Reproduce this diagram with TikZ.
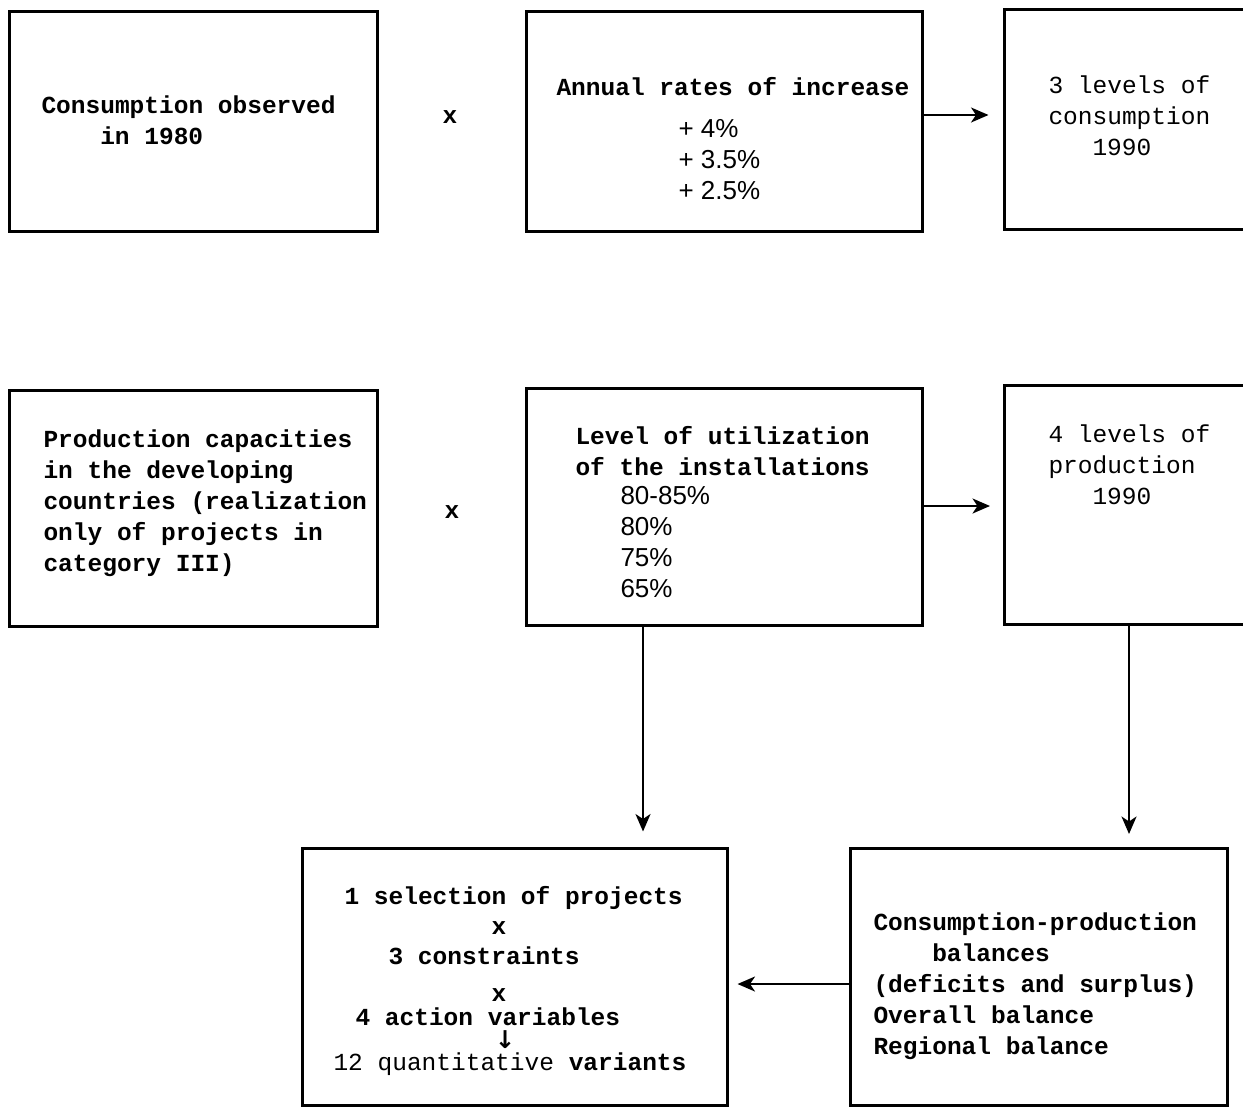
\documentclass[tikz,border=0pt]{standalone}
\usepackage{fontspec}
\setmonofont{Liberation Mono}
\setsansfont{Liberation Sans}
\newfontfamily\arrowfont{DejaVu Sans}
\usetikzlibrary{arrows.meta}

\begin{document}
\begin{tikzpicture}[x=0.4pt, y=-0.4pt,
			box/.style={draw, line width=1.2pt, inner sep=0pt},
			txt/.style={font=\ttfamily\fontsize{9.8}{12.4}\selectfont, align=left, inner sep=0pt, anchor=north west},
			pct/.style={font=\sffamily\fontsize{10.4}{12.4}\selectfont, align=left, inner sep=0pt, anchor=north west},
			flow/.style={-{Stealth[length=7pt, width=6pt, inset=2pt]}, line width=0.9pt}]
			
			\useasboundingbox (0,0) rectangle (1243,1106);
			\clip (0,0) rectangle (1243,1106);
			
			% Define the boxes for the first line
			\node[box, minimum width=146.8pt, minimum height=87.6pt] (cons80) at (193.5,121.5) {};
			\node[box, minimum width=158.4pt, minimum height=87.6pt] (rates) at (724,121.5) {};
			\node[box, minimum width=118.4pt, minimum height=87.6pt] (cons90) at (1152,119.5) {};
			
			% Define the boxes for the second line
			\node[box, minimum width=146.8pt, minimum height=94.4pt] (capac) at (193.5,508) {};
			\node[box, minimum width=158.4pt, minimum height=94.8pt] (util) at (724,506.5) {};
			\node[box, minimum width=118.4pt, minimum height=95.6pt] (prod90) at (1152,504.5) {};
			
			% Define the boxes for the third line
			\node[box, minimum width=170pt, minimum height=102.8pt] (variants) at (514.5,976.5) {};
			\node[box, minimum width=150.8pt, minimum height=102.8pt] (balance) at (1038.5,976.5) {};
			
			% Texts of the first line
			\node[txt, font=\ttfamily\bfseries\fontsize{9.8}{12.4}\selectfont] (t-cons80) at (41,95) {Consumption observed\\\hspace*{23.5pt}in 1980};
			\node[txt, anchor=center, font=\ttfamily\bfseries\fontsize{9.8}{12.4}\selectfont] (x1) at (450,117) {x};
			\node[txt, font=\ttfamily\bfseries\fontsize{9.8}{12.4}\selectfont] (t-rates) at (556,77) {Annual rates of increase};
			\node[pct] (t-pct) at (678,119) {+ 4\%\\+ 3.5\%\\+ 2.5\%};
			\node[txt] (t-cons90) at (1048,75) {3 levels of\\consumption\\\hspace*{17.6pt}1990};
			
			% Texts of the second line
			\node[txt, font=\ttfamily\bfseries\fontsize{9.8}{12.4}\selectfont] (t-capac) at (43,429) {Production capacities\\in the developing\\countries (realization\\only of projects in\\category III)};
			\node[txt, anchor=center, font=\ttfamily\bfseries\fontsize{9.8}{12.4}\selectfont] (x2) at (452,512) {x};
			\node[txt, font=\ttfamily\bfseries\fontsize{9.8}{12.4}\selectfont] (t-util) at (575,426) {Level of utilization\\of the installations};
			\node[pct] (t-util-pct) at (620,486) {80-85\%\\80\%\\75\%\\65\%};
			\node[txt] (t-prod90) at (1048,424) {4 levels of\\production\\\hspace*{17.6pt}1990};
			
			% Texts of the third line
			\node[txt, font=\ttfamily\bfseries\fontsize{9.8}{12.4}\selectfont] (t-variants) at (333,886) {\hspace*{4.4pt}1 selection of projects\\[-0.4pt]\hspace*{63.2pt}x\\[-0.4pt]\hspace*{22pt}3 constraints\\[2.4pt]\hspace*{63.2pt}x\\[-2.8pt]\hspace*{8.8pt}4 action variables\\[-3.4pt]\hspace*{64.5pt}{\arrowfont\bfseries ↓}\\[-3.6pt]\mdseries 12 quantitative \bfseries variants};
			\node[txt, font=\ttfamily\bfseries\fontsize{9.8}{12.4}\selectfont] (t-balance) at (873,912) {Consumption-production\\\hspace*{23.5pt}balances\\(deficits and surplus)\\Overall balance\\Regional balance};
			
			% Connectors
			\draw[flow, shorten >=5.6pt] (rates.east |- 0,115) -- (cons90.west |- 0,115);
			\draw[flow, shorten >=5pt] (util.east |- 0,506) -- (prod90.west |- 0,506);
			\draw[flow, shorten >=6pt] (util.south -| 643,0) -- (variants.north -| 643,0);
			\draw[flow, shorten >=5pt] (prod90.south -| 1129,0) -- (balance.north -| 1129,0);
			\draw[flow, shorten >=3.6pt] (balance.west |- 0,984) -- (variants.east |- 0,984);
		\end{tikzpicture}
\end{document}
